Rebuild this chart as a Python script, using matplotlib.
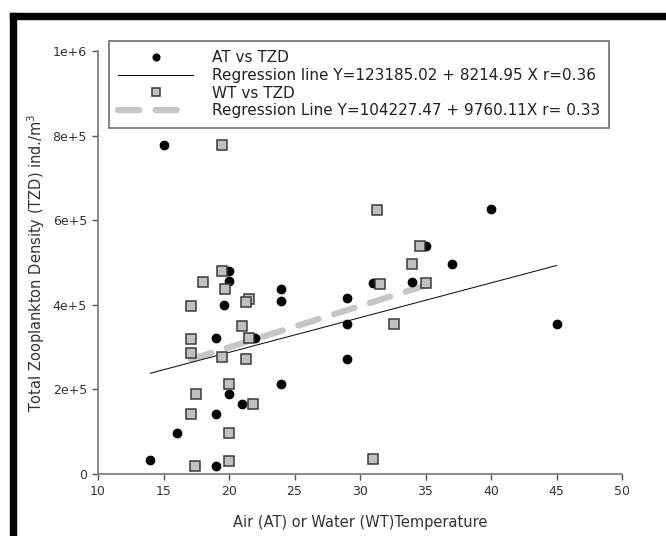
import matplotlib.pyplot as plt
import numpy as np
from matplotlib.patches import Rectangle

plt.rcParams['font.family'] = ['DejaVu Sans']

# ── data ─────────────────────────────────────────────────────────
# AT vs TZD (black circles)
at_temp = [15, 40, 35, 37, 31, 34, 29, 29, 45, 29,
           20, 20, 24, 24, 19.6, 19, 22, 24, 20, 21,
           19, 16, 14, 19]
at_tzd = [7.78e5, 6.26e5, 5.40e5, 4.96e5, 4.51e5, 4.55e5, 4.17e5, 3.54e5, 3.55e5, 2.72e5,
          4.81e5, 4.56e5, 4.38e5, 4.09e5, 4.00e5, 3.21e5, 3.21e5, 2.13e5, 1.88e5, 1.65e5,
          1.42e5, 0.98e5, 0.33e5, 0.20e5]

# WT vs TZD (grey squares)
wt_temp = [19.5, 31.3, 34.6, 34, 31.5, 35, 32.6, 31,
           19.5, 18, 19.7, 21.5, 21.3, 17.1, 21, 17.1, 21.5, 17.1,
           19.5, 21.3, 20, 17.5, 21.8, 17.1, 20, 20, 17.4]
wt_tzd = [7.78e5, 6.24e5, 5.40e5, 4.96e5, 4.49e5, 4.51e5, 3.54e5, 0.35e5,
          4.80e5, 4.55e5, 4.37e5, 4.14e5, 4.07e5, 3.97e5, 3.51e5, 3.18e5, 3.21e5, 2.85e5,
          2.77e5, 2.71e5, 2.12e5, 1.88e5, 1.65e5, 1.42e5, 0.98e5, 0.31e5, 0.20e5]

# regression coefficients (intercept, slope) as printed in the legend
at_fit = (123185.02, 8214.95)
wt_fit = (104227.47, 9760.11)

x_ticks = [10, 15, 20, 25, 30, 35, 40, 45, 50]
y_ticks = [0, 2e5, 4e5, 6e5, 8e5, 1e6]
y_tick_labels = ['0', '2e+5', '4e+5', '6e+5', '8e+5', '1e+6']

labels = ['AT vs TZD',
          'Regression line Y=123185.02 + 8214.95 X r=0.36',
          'WT vs TZD',
          'Regression Line Y=104227.47 + 9760.11X r= 0.33']

# ── figure ───────────────────────────────────────────────────────
W, H = 666, 536
fig = plt.figure(figsize=(W / 100, H / 100), dpi=100)
ax = fig.add_axes([98 / W, 1 - 474 / H, 524 / W, 423 / H])

# regression lines over each series' range
xa = np.array([min(at_temp), max(at_temp)])
xw = np.array([min(wt_temp), max(wt_temp)])
l_wt, = ax.plot(xw, wt_fit[0] + wt_fit[1] * xw, color='#c6c6c6', lw=4.5,
                dashes=(3.4, 2.6), dash_capstyle='round', zorder=1)
l_at, = ax.plot(xa, at_fit[0] + at_fit[1] * xa, color='#111111', lw=0.75, zorder=2)

s_at, = ax.plot(at_temp, at_tzd, 'o', ms=6, color='black', mec='black', zorder=3)
s_wt, = ax.plot(wt_temp, wt_tzd, 's', ms=7.6, mfc='#c0c0c0', mec='#3a3a3a', mew=1.1, zorder=4)

ax.set_xlim(10, 50)
ax.set_ylim(0, 1e6)
ax.set_xticks(x_ticks)
ax.set_yticks(y_ticks)
ax.set_yticklabels(y_tick_labels)

for side in ['top', 'right']:
    ax.spines[side].set_visible(False)
for side in ['left', 'bottom']:
    ax.spines[side].set_color('#808080')
    ax.spines[side].set_linewidth(1.3)
ax.tick_params(direction='out', length=4.5, width=1, color='#555555',
               labelsize=9, labelcolor='#333333', pad=3.5)

ax.set_xlabel('Air (AT) or Water (WT)Temperature', fontsize=10.5, color='#333333', labelpad=12)
ax.set_ylabel('Total Zooplankton Density (TZD) ind./m$^3$', fontsize=10.5, color='#333333', labelpad=4)

leg = ax.legend([s_at, l_at, s_wt, l_wt], labels,
                loc='upper left', bbox_to_anchor=(109 / W, 1 - 41 / H),
                bbox_transform=fig.transFigure, borderaxespad=0,
                fontsize=11, handlelength=4.85, handletextpad=1.25,
                labelspacing=0.17, borderpad=0.62, fancybox=False,
                framealpha=1, markerscale=0.8, numpoints=1)
leg.get_frame().set_edgecolor('#6f6f6f')
leg.get_frame().set_linewidth(1.2)
for t in leg.get_texts():
    t.set_color('#222222')

# thick black frame at top and left edge
fig.add_artist(Rectangle((10 / W, 1 - 19 / H), 1 - 10 / W, 6 / H,
                         transform=fig.transFigure, color='black'))
fig.add_artist(Rectangle((10 / W, 0), 6 / W, 1 - 13 / H,
                         transform=fig.transFigure, color='black'))

fig.savefig('out.png', dpi=100)
